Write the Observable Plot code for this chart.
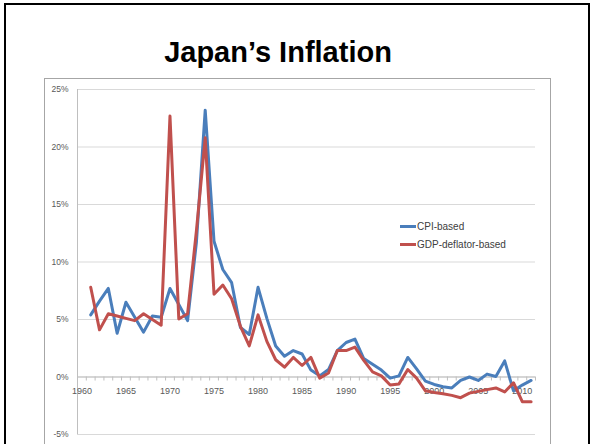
<!DOCTYPE html>
<html>
<head>
<meta charset="utf-8">
<script src="https://cdn.jsdelivr.net/npm/d3@7"></script>
<script src="https://cdn.jsdelivr.net/npm/@observablehq/plot@0.6"></script>
<style>
  body { margin: 0; background: #fff; }
  #slide { position: relative; width: 594px; height: 444px; overflow: hidden; background: #fff; }
  #edge { position: absolute; left: 4px; top: 3px; width: 582px; height: 470px; border: 2px solid #000; }
  #title { position: absolute; left: 138px; width: 280px; top: 36px; line-height: 29px; text-align: center;
           font: bold 29px "Liberation Sans", Arial, sans-serif; color: #000; }
  #chart { position: absolute; left: 44px; top: 78px; width: 505px; height: 380px; border: 1px solid #a6a6a6; }
  #chart svg { position: absolute; left: 0; top: 0; }
  #legend { position: absolute; left: 400px; top: 218px; font: 10px "Liberation Sans", Arial, sans-serif; color: #404040; }
  .row { display: flex; align-items: center; height: 17.6px; }
  .swatch { width: 16px; height: 3px; margin-right: 1px; }
</style>
</head>
<body>
<div id="slide">
  <div id="edge"></div>
  <div id="title">Japan’s Inflation</div>
  <div id="chart"></div>
  <div id="legend"></div>
</div>
<script>
// Annual inflation rate in Japan, percent
const years = [1961, 1962, 1963, 1964, 1965, 1966, 1967, 1968, 1969, 1970,
               1971, 1972, 1973, 1974, 1975, 1976, 1977, 1978, 1979, 1980,
               1981, 1982, 1983, 1984, 1985, 1986, 1987, 1988, 1989, 1990,
               1991, 1992, 1993, 1994, 1995, 1996, 1997, 1998, 1999, 2000,
               2001, 2002, 2003, 2004, 2005, 2006, 2007, 2008, 2009, 2010, 2011];

const cpiBased = [5.4, 6.6, 7.7, 3.8, 6.5, 5.2, 3.9, 5.3, 5.2, 7.7,
                  6.3, 4.9, 11.7, 23.2, 11.8, 9.35, 8.2, 4.3, 3.7, 7.8,
                  5.1, 2.7, 1.8, 2.3, 2.0, 0.6, 0.1, 0.65, 2.3, 3.0,
                  3.3, 1.6, 1.1, 0.6, -0.1, 0.1, 1.7, 0.7, -0.35, -0.65,
                  -0.85, -0.95, -0.3, 0.0, -0.3, 0.25, 0.05, 1.4, -1.2, -0.7, -0.3];

const gdpDeflatorBased = [7.8, 4.1, 5.5, 5.3, 5.1, 4.9, 5.5, 5.0, 4.5, 22.7,
                          5.05, 5.5, 12.7, 20.8, 7.2, 8.0, 6.8, 4.4, 2.7, 5.4,
                          3.1, 1.5, 0.85, 1.7, 1.0, 1.7, -0.1, 0.35, 2.3, 2.3,
                          2.6, 1.45, 0.45, 0.1, -0.7, -0.6, 0.65, -0.1, -1.2, -1.35,
                          -1.45, -1.6, -1.8, -1.4, -1.25, -1.1, -0.95, -1.3, -0.5, -2.15, -2.15];

const seriesNames = ["CPI-based", "GDP-deflator-based"];
const seriesColors = ["#4a7ebb", "#c0504d"];

const yTicks = [-5, 0, 5, 10, 15, 20, 25];
const xTickLabels = [1960, 1965, 1970, 1975, 1980, 1985, 1990, 1995, 2000, 2005, 2010];

// category axis: 1960 … 2011, each year centred in its own slot
const firstCategory = 1960;
const lastCategory = 2011;
const xDomain = [firstCategory - 0.5, lastCategory + 0.5];
const slotEdges = d3.range(firstCategory, lastCategory + 2).map(y => y - 0.5);

const cpiRows = years.map((year, i) => ({year, value: cpiBased[i]}));
const gdpRows = years.map((year, i) => ({year, value: gdpDeflatorBased[i]}));

const axisGray = "#bfbfbf";
const labelGray = "#595959";

const chart = Plot.plot({
  width: 505,
  height: 366,
  marginLeft: 32,
  marginRight: 15,
  marginTop: 10,
  marginBottom: 11,
  style: {fontFamily: "'Liberation Sans', Arial, sans-serif", fontSize: "8.5px", color: labelGray, background: "transparent"},
  x: {domain: xDomain, axis: null},
  y: {domain: [-5, 25], ticks: yTicks, tickFormat: d => d + "%", tickSize: 0, tickPadding: 9, label: null},
  marks: [
    Plot.gridY(yTicks, {stroke: "#d9d9d9", strokeOpacity: 1}),
    Plot.ruleX([xDomain[0]], {stroke: axisGray}),
    Plot.ruleY([0], {stroke: axisGray}),
    Plot.ruleX(slotEdges, {x: d => d, y1: 0, y2: -0.35, stroke: axisGray}),
    Plot.text(xTickLabels, {x: d => d, y: 0, dy: 14, text: d => String(d), fill: labelGray, fontSize: 9}),
    Plot.line(cpiRows, {x: "year", y: "value", stroke: seriesColors[0], strokeWidth: 3}),
    Plot.line(gdpRows, {x: "year", y: "value", stroke: seriesColors[1], strokeWidth: 3})
  ]
});
document.getElementById("chart").appendChild(chart);

// legend inside the plot area
const legend = document.getElementById("legend");
seriesNames.forEach((name, i) => {
  const row = document.createElement("div");
  row.className = "row";
  const sw = document.createElement("span");
  sw.className = "swatch";
  sw.style.background = seriesColors[i];
  const label = document.createElement("span");
  label.textContent = name;
  row.appendChild(sw);
  row.appendChild(label);
  legend.appendChild(row);
});
</script>
</body>
</html>
